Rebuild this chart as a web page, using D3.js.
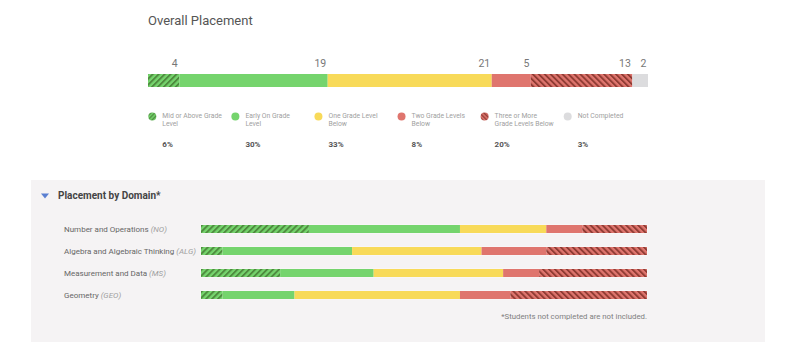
<!DOCTYPE html>
<html><head><meta charset="utf-8">
<script src="https://cdn.jsdelivr.net/npm/d3@7"></script>
<style>body{margin:0;background:#fff;font-family:Roboto,"Noto Sans",sans-serif;}</style>
</head><body><svg id="c" width="799" height="350"></svg>
<script>
const categories = ["Mid or Above Grade Level","Early On Grade Level","One Grade Level Below","Two Grade Levels Below","Three or More Grade Levels Below","Not Completed"];
const legendLines = [["Mid or Above Grade","Level"],["Early On Grade","Level"],["One Grade Level","Below"],["Two Grade Levels","Below"],["Three or More","Grade Levels Below"],["Not Completed"]];
const overallCounts = [4,19,21,5,13,2];
const overallPercents = ["6%","30%","33%","8%","20%","3%"];
const domains = ["Number and Operations","Algebra and Algebraic Thinking","Measurement and Data","Geometry"];
const domainAbbr = ["(NO)","(ALG)","(MS)","(GEO)"];
const domainCounts = [
  [15,21,12,5,9],
  [3,18,18,9,14],
  [11,13,18,5,15],
  [3,10,23,7,19]
];
const colors = ["url(#hatchG)","#75d46d","#f8da59","#df756e","url(#hatchR)","#dcdcde"];
const legendColors = ["url(#hatchGs)","#75d46d","#f8da59","#df756e","url(#hatchRs)","#dcdcde"];

const svg = d3.select("#c");
const defs = svg.append("defs");
function hatch(id, bg, fg, angle, size){
  const p = defs.append("pattern").attr("id",id).attr("patternUnits","userSpaceOnUse")
    .attr("width",size).attr("height",size).attr("patternTransform",`rotate(${angle})`);
  p.append("rect").attr("width",size).attr("height",size).attr("fill",bg);
  p.append("rect").attr("width",size*0.45).attr("height",size).attr("fill",fg);
}
hatch("hatchG","#75d46d","#4e8a3e",45,4.2);
hatch("hatchR","#df756e","#8f3b33",-45,4.2);
hatch("hatchGs","#75d46d","#4e8a3e",45,3);
hatch("hatchRs","#df756e","#8f3b33",-45,3);

// Title
svg.append("text").attr("x",148).attr("y",25).text("Overall Placement")
  .attr("font-size",13).attr("fill","#555");

// Overall bar
const total = d3.sum(overallCounts);
const x0 = d3.scaleLinear().domain([0,total]).range([148,648]);
let cum = 0;
const segs = overallCounts.map((v,i)=>{const s={i,v,a:cum,b:cum+v};cum+=v;return s;});
svg.append("g").selectAll("rect").data(segs).join("rect")
  .attr("x",d=>x0(d.a)).attr("width",d=>x0(d.b)-x0(d.a))
  .attr("y",74).attr("height",13).attr("fill",d=>colors[d.i]);
svg.append("g").selectAll("text").data(segs).join("text")
  .attr("x",d=>x0(d.b)-1.5).attr("y",67).attr("text-anchor","end")
  .attr("font-size",10.5).attr("fill","#777").text(d=>d.v);

// Legend
const lx = d3.scalePoint().domain(d3.range(6)).range([152.3,567.7]);
const lg = svg.append("g").selectAll("g").data(categories).join("g")
  .attr("transform",(d,i)=>`translate(${lx(i)},0)`);
lg.append("circle").attr("cy",116.5).attr("r",4).attr("fill",(d,i)=>legendColors[i]);
lg.each(function(d,i){
  const g = d3.select(this);
  legendLines[i].forEach((ln,j)=>{
    g.append("text").attr("x",10).attr("y",117.5+j*8).text(ln)
      .attr("font-size",6.8).attr("fill","#a0a0a0");
  });
  g.append("text").attr("x",10).attr("y",147).text(overallPercents[i])
    .attr("font-size",8).attr("font-weight","bold").attr("fill","#555");
});

// Panel
svg.append("rect").attr("x",31).attr("y",180).attr("width",734).attr("height",162).attr("fill","#f5f3f4");
svg.append("path").attr("d","M41,193.5 L49,193.5 L45,198.5 Z").attr("fill","#5a7fd1");
svg.append("text").attr("x",58).attr("y",199).text("Placement by Domain*")
  .attr("font-size",10).attr("font-weight","bold").attr("fill","#444");

const y = d3.scaleBand().domain(domains).range([218,306]).paddingInner(0);
const xd = d3.scaleLinear().domain([0,1]).range([201,647]);
const rows = svg.append("g").selectAll("g").data(domains).join("g")
  .attr("transform",d=>`translate(0,${y(d)})`);
rows.each(function(d,ri){
  const g = d3.select(this);
  const vals = domainCounts[ri];
  const t = d3.sum(vals);
  let c = 0;
  const ss = vals.map((v,i)=>{const s={i,a:c/t,b:(c+v)/t};c+=v;return s;});
  g.append("rect").attr("x",xd(0)-0.5).attr("width",xd(1)-xd(0)+1).attr("y",6.5).attr("height",9).attr("fill","#fbfafa");
  g.selectAll("rect.s").data(ss).join("rect").attr("class","s")
    .attr("x",s=>xd(s.a)).attr("width",s=>xd(s.b)-xd(s.a))
    .attr("y",7).attr("height",8).attr("fill",s=>colors[s.i]);
  const tx = g.append("text").attr("x",64).attr("y",14).attr("font-size",8).attr("fill","#666");
  tx.append("tspan").text(d+" ");
  tx.append("tspan").attr("font-style","italic").attr("fill","#a0a0a0").text(domainAbbr[ri]);
});

svg.append("text").attr("x",647).attr("y",318.5).attr("text-anchor","end")
  .attr("font-size",7.8).attr("fill","#808080").text("*Students not completed are not included.");
</script></body></html>
